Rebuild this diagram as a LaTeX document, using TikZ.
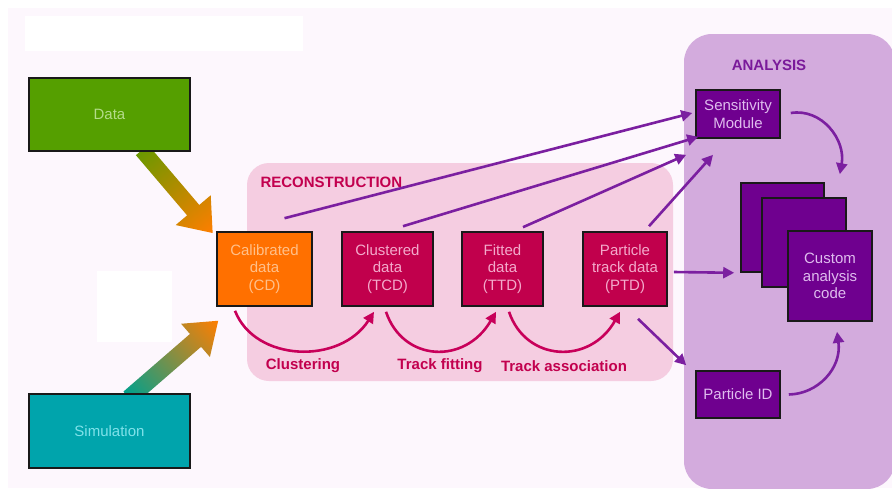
\documentclass[tikz,border=0pt]{standalone}
\usepackage{fontspec}
\setmainfont{Liberation Sans}
\usetikzlibrary{arrows.meta,calc}
\definecolor{bgpink}{HTML}{FDF7FD}
\definecolor{reconpink}{HTML}{F5CDE1}
\definecolor{anapurple}{HTML}{D3ABDD}
\definecolor{datagreen}{HTML}{559F00}
\definecolor{datatext}{HTML}{B4DC8A}
\definecolor{simteal}{HTML}{00A4AC}
\definecolor{simtext}{HTML}{80E2EA}
\definecolor{cdorange}{HTML}{FF7000}
\definecolor{cdtext}{HTML}{FFC08A}
\definecolor{crimson}{HTML}{C1004C}
\definecolor{crimtext}{HTML}{F3AACB}
\definecolor{boxpurple}{HTML}{6F008F}
\definecolor{purptext}{HTML}{DFBCEE}
\definecolor{arrpurple}{HTML}{7B1FA0}
\definecolor{curvecrim}{HTML}{C8005A}
\definecolor{labcrim}{HTML}{C2004E}
\definecolor{anatext}{HTML}{7A1A9A}
\definecolor{arrgreen}{HTML}{6A9800}
\definecolor{arrteal}{HTML}{00A08C}
\definecolor{arrorange}{HTML}{FF7E00}
\begin{document}
\begin{tikzpicture}[x=1pt,y=-1pt,
  boxnode/.style={draw=black!90, line width=1.6pt, inner sep=0pt, align=center,
    font=\fontsize{15}{17.7}\selectfont},
  purparrow/.style={draw=arrpurple, line width=2.6pt, -{Triangle[length=11pt,width=11pt]}},
  crimarrow/.style={draw=curvecrim, line width=2.6pt, -{Triangle[length=11pt,width=11pt]}},
  steplabel/.style={text=labcrim, font=\fontsize{15}{17}\selectfont\bfseries},
  regionlabel/.style={font=\fontsize{15}{17}\selectfont\bfseries}
]
\useasboundingbox (0,0) rectangle (892,488);
\fill[white] (0,0) rectangle (892,488);
\fill[bgpink] (8,8) rectangle (892,488);
\fill[white] (25,16) rectangle (303,51);
\fill[white] (97,271) rectangle (172,342);
\fill[reconpink, rounded corners=22pt] (247,163) rectangle (673,381);
\fill[anapurple, rounded corners=28pt] (684,34) rectangle (895,489);

\node[regionlabel, text=labcrim, anchor=west] (reclab) at (257,182) {RECONSTRUCTION};
\node[regionlabel, text=anatext] (analab) at (769,65) {ANALYSIS};

% thick gradient arrows
\path[transform canvas={shift={(142,150)},rotate=-49.6}, left color=arrgreen, right color=arrorange]
  (0,-8) -- (79,-8) -- (79,-23) -- (109,0) -- (79,23) -- (79,8) -- (0,8) -- cycle;
\path[transform canvas={shift={(129,398)},rotate=40.9}, left color=arrteal, right color=arrorange]
  (0,-8.5) -- (88,-8.5) -- (88,-22) -- (118,0) -- (88,22) -- (88,8.5) -- (0,8.5) -- cycle;

% boxes
\node[boxnode, fill=datagreen, text=datatext, minimum width=161pt, minimum height=73pt] (data) at (109.5,114.5) {Data};
\node[boxnode, fill=simteal, text=simtext, minimum width=161pt, minimum height=74pt] (sim) at (109.5,431) {Simulation};
\node[boxnode, fill=cdorange, text=cdtext, minimum width=95pt, minimum height=74pt] (cd) at (264.5,269) {Calibrated\\data\\(CD)};
\node[boxnode, fill=crimson, text=crimtext, minimum width=91pt, minimum height=74pt] (tcd) at (387.5,269) {Clustered\\data\\(TCD)};
\node[boxnode, fill=crimson, text=crimtext, minimum width=81pt, minimum height=74pt] (ttd) at (502.5,269) {Fitted\\data\\(TTD)};
\node[boxnode, fill=crimson, text=crimtext, minimum width=84pt, minimum height=74pt] (ptd) at (625,269) {Particle\\track data\\(PTD)};
\node[boxnode, fill=boxpurple, text=purptext, minimum width=84pt, minimum height=48pt] (sens) at (738,114) {Sensitivity\\Module};
\node[boxnode, fill=boxpurple, text=purptext, minimum width=84pt, minimum height=47pt] (pid) at (738,394.5) {Particle ID};
\node[boxnode, fill=boxpurple, minimum width=83pt, minimum height=89pt] (stacka) at (782.5,227.5) {};
\node[boxnode, fill=boxpurple, minimum width=84pt, minimum height=89pt] (stackb) at (804,242.5) {};
\node[boxnode, fill=boxpurple, text=purptext, minimum width=84pt, minimum height=90pt] (code) at (830,276) {Custom\\analysis\\code};

% purple connectors
\draw[purparrow] ($(cd.north)+(20,-13)$) -- ($(sens.west)+(-3,-1)$);
\draw[purparrow] ($(tcd.north)+(15.5,-5)$) -- ($(sens.south west)+(3,-2)$);
\draw[purparrow] ($(ttd.north)+(20.5,-4)$) -- ($(sens.south west)+(-9,16)$);
\draw[purparrow] ($(ptd.north)+(24,-5)$) -- ($(sens.south)+(-25,16)$);
\draw[purparrow] ($(ptd.east)+(6,3)$) -- ($(stacka.south west)+(-6,0)$);
\draw[purparrow] ($(ptd.south)+(13,12)$) -- ($(pid.north west)+(-9,-5)$);
\draw[purparrow] ($(sens.east)+(10,-1)$) .. controls (822,108) and (846,140) .. ($(stacka.north east)+(15,-8)$);
\draw[purparrow] ($(pid.east)+(8,0)$) .. controls (818,394) and (842,368) .. ($(code.south)+(7,10)$);

% crimson step arcs
\draw[crimarrow] ($(cd.south)+(-29.5,4)$) .. controls (255,362) and (340,365) .. ($(tcd.south)+(-13.5,5)$);
\draw[crimarrow] ($(tcd.south)+(-1.5,5)$) .. controls (403,362) and (465,365) .. ($(ttd.south)+(-6.5,5)$);
\draw[crimarrow] ($(ttd.south)+(6.5,5)$) .. controls (526,362) and (590,365) .. ($(ptd.south)+(-5,5)$);

\node[steplabel] (lclus) at (303,366) {Clustering};
\node[steplabel] (lfit) at (440,366) {Track fitting};
\node[steplabel] (lassoc) at (564,366) {Track association};
\end{tikzpicture}
\end{document}
